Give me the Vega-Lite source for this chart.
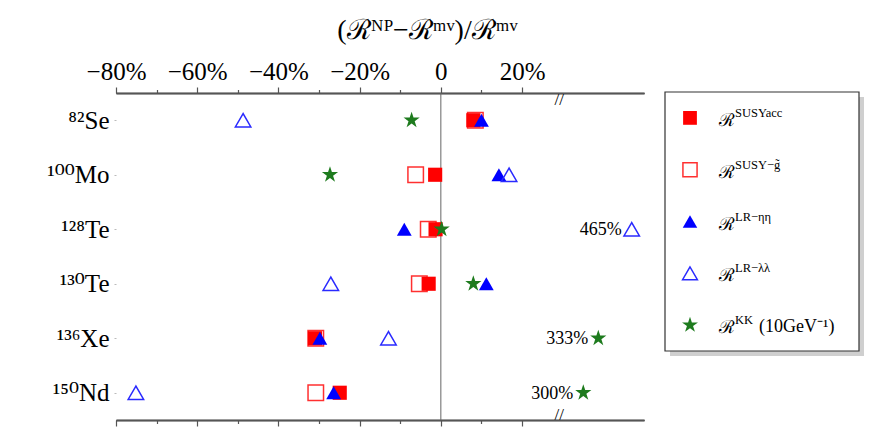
{
  "$schema": "https://vega.github.io/schema/vega-lite/v6.json",
  "autosize": "none",
  "width": 528,
  "height": 327,
  "padding": {"left": 116, "top": 93, "right": 233, "bottom": 12},
  "background": "white",
  "config": {
    "view": {"stroke": null},
    "font": "Liberation Serif",
    "axis": {"labelFont": "Liberation Serif", "titleFont": "Liberation Serif", "grid": false, "labelColor": "black", "titleColor": "black", "labelOverlap": false, "labelFlush": false}
  },
  "datasets": {
    "pts": [
      {"nucleus": "⁸²Se", "series": "LRlambda", "value": -48.7},
      {"nucleus": "⁸²Se", "series": "KK", "value": -7.2},
      {"nucleus": "⁸²Se", "series": "SUSYg", "value": 8.5},
      {"nucleus": "⁸²Se", "series": "SUSYacc", "value": 8.0},
      {"nucleus": "⁸²Se", "series": "LReta", "value": 10.0},
      {"nucleus": "¹⁰⁰Mo", "series": "KK", "value": -27.3},
      {"nucleus": "¹⁰⁰Mo", "series": "SUSYg", "value": -6.2},
      {"nucleus": "¹⁰⁰Mo", "series": "SUSYacc", "value": -1.4},
      {"nucleus": "¹⁰⁰Mo", "series": "LReta", "value": 14.3},
      {"nucleus": "¹⁰⁰Mo", "series": "LRlambda", "value": 16.8},
      {"nucleus": "¹²⁸Te", "series": "LReta", "value": -9.0},
      {"nucleus": "¹²⁸Te", "series": "SUSYg", "value": -3.1},
      {"nucleus": "¹²⁸Te", "series": "SUSYacc", "value": -1.3},
      {"nucleus": "¹²⁸Te", "series": "KK", "value": 0.2},
      {"nucleus": "¹²⁸Te", "series": "LRlambda", "value": 465, "label": "465%"},
      {"nucleus": "¹³⁰Te", "series": "LRlambda", "value": -27.1},
      {"nucleus": "¹³⁰Te", "series": "SUSYg", "value": -5.3},
      {"nucleus": "¹³⁰Te", "series": "SUSYacc", "value": -3.0},
      {"nucleus": "¹³⁰Te", "series": "KK", "value": 8.0},
      {"nucleus": "¹³⁰Te", "series": "LReta", "value": 11.2},
      {"nucleus": "¹³⁶Xe", "series": "SUSYg", "value": -30.8},
      {"nucleus": "¹³⁶Xe", "series": "SUSYacc", "value": -31.0},
      {"nucleus": "¹³⁶Xe", "series": "LReta", "value": -29.8},
      {"nucleus": "¹³⁶Xe", "series": "LRlambda", "value": -12.9},
      {"nucleus": "¹³⁶Xe", "series": "KK", "value": 333, "label": "333%"},
      {"nucleus": "¹⁵⁰Nd", "series": "LRlambda", "value": -75.1},
      {"nucleus": "¹⁵⁰Nd", "series": "SUSYg", "value": -30.8},
      {"nucleus": "¹⁵⁰Nd", "series": "LReta", "value": -26.4},
      {"nucleus": "¹⁵⁰Nd", "series": "SUSYacc", "value": -24.9},
      {"nucleus": "¹⁵⁰Nd", "series": "KK", "value": 300, "label": "300%"}
    ],
    "leg": [
      {"series": "SUSYacc", "sup": "SUSYacc"},
      {"series": "SUSYg", "sup": "SUSY−g̃"},
      {"series": "LReta", "sup": "LR−ηη"},
      {"series": "LRlambda", "sup": "LR−λλ"},
      {"series": "KK", "sup": "KK", "rest": "(10GeV⁻¹)"}
    ]
  },
  "resolve": {"scale": {"x": "independent", "y": "independent"}, "axis": {"x": "independent", "y": "independent"}},
  "layer": [
    {
      "resolve": {"axis": {"x": "independent"}},
      "layer": [
        {
          "data": {"values": [{"v": 0}]},
          "mark": {"type": "rule", "color": "#666666", "strokeWidth": 1},
          "encoding": {
            "x": {"field": "v", "type": "quantitative",
              "scale": {"domain": [-80, 29, 300, 333, 465, 505], "range": [0, 442.6, 467.3, 482.3, 515.7, 528], "zero": false, "nice": false},
              "axis": {"orient": "top", "values": [-80, -60, -40, -20, 0, 20],
                "labelExpr": "datum.value == 0 ? '0' : (datum.value < 0 ? '−' : '') + abs(datum.value) + '%'",
                "ticks": false,
                "domainColor": "#555555", "domainWidth": 1.5,
                "labelFont": "Liberation Serif", "labelFontSize": 25, "labelPadding": 9,
                "title": "(ℛᴺᴾ−ℛᵐᵛ)/ℛᵐᵛ", "titleFont": "Liberation Serif, DejaVu Serif", "titleFontSize": 28, "titleFontWeight": "normal",
                "titleX": 311, "titleY": -55, "titleBaseline": "alphabetic", "titleAlign": "center"}
            }
          }
        },
        {
          "data": {"name": "pts"},
          "transform": [{"filter": "datum.series == 'SUSYg'"}],
          "mark": {"type": "point", "shape": "square", "filled": false, "stroke": "#ff3030", "strokeWidth": 1.5, "size": 240, "opacity": 1},
          "encoding": {
            "x": {"field": "value", "type": "quantitative",
              "scale": {"domain": [-80, 29, 300, 333, 465, 505], "range": [0, 442.6, 467.3, 482.3, 515.7, 528], "zero": false, "nice": false},
              "axis": {"orient": "top", "values": [-80, -60, -40, -20, 0, 20], "labels": false, "domain": true, "domainColor": "#555555", "domainWidth": 1.5, "tickSize": 6, "tickColor": "#555555", "tickWidth": 1.2, "title": null}},
            "y": {"field": "nucleus", "type": "nominal",
              "scale": {"type": "point", "domain": ["⁸²Se", "¹⁰⁰Mo", "¹²⁸Te", "¹³⁰Te", "¹³⁶Xe", "¹⁵⁰Nd"], "padding": 0.5},
              "axis": {"orient": "left", "title": null, "domain": false, "tickSize": 2, "tickColor": "#bbbbbb", "labelFont": "Liberation Serif, DejaVu Serif", "labelFontSize": 25, "labelPadding": 5}}
          }
        },
        {
          "data": {"name": "pts"},
          "transform": [{"filter": "datum.series == 'SUSYacc'"}],
          "mark": {"type": "point", "shape": "square", "filled": true, "fill": "#ff0000", "size": 200, "opacity": 1},
          "encoding": {
            "x": {"field": "value", "type": "quantitative",
              "scale": {"domain": [-80, 29, 300, 333, 465, 505], "range": [0, 442.6, 467.3, 482.3, 515.7, 528], "zero": false, "nice": false},
              "axis": {"orient": "top", "values": [-70, -50, -30, -10, 10], "labels": false, "domain": true, "domainColor": "#555555", "domainWidth": 1.5, "tickSize": 3.5, "tickColor": "#555555", "tickWidth": 1.2, "title": null}},
            "y": {"field": "nucleus", "type": "nominal",
              "scale": {"type": "point", "domain": ["⁸²Se", "¹⁰⁰Mo", "¹²⁸Te", "¹³⁰Te", "¹³⁶Xe", "¹⁵⁰Nd"], "padding": 0.5},
              "axis": {"orient": "left", "title": null, "domain": false, "tickSize": 2, "tickColor": "#bbbbbb", "labelFont": "Liberation Serif, DejaVu Serif", "labelFontSize": 25, "labelPadding": 5}}
          }
        },
        {
          "data": {"name": "pts"},
          "transform": [{"filter": "datum.series == 'KK'"}],
          "mark": {"type": "point", "shape": "M0,-1L0.225,-0.309L0.951,-0.309L0.363,0.118L0.588,0.809L0,0.382L-0.588,0.809L-0.363,0.118L-0.951,-0.309L-0.225,-0.309Z", "filled": true, "fill": "#1e7b1e", "size": 290, "opacity": 1},
          "encoding": {
            "x": {"field": "value", "type": "quantitative",
              "scale": {"domain": [-80, 29, 300, 333, 465, 505], "range": [0, 442.6, 467.3, 482.3, 515.7, 528], "zero": false, "nice": false},
              "axis": {"orient": "bottom", "values": [-80, -60, -40, -20, 0, 20], "labels": false, "domain": true, "domainColor": "#555555", "domainWidth": 1.5, "tickSize": 6, "tickColor": "#555555", "tickWidth": 1.2, "title": null}},
            "y": {"field": "nucleus", "type": "nominal",
              "scale": {"type": "point", "domain": ["⁸²Se", "¹⁰⁰Mo", "¹²⁸Te", "¹³⁰Te", "¹³⁶Xe", "¹⁵⁰Nd"], "padding": 0.5},
              "axis": {"orient": "left", "title": null, "domain": false, "tickSize": 2, "tickColor": "#bbbbbb", "labelFont": "Liberation Serif, DejaVu Serif", "labelFontSize": 25, "labelPadding": 5}}
          }
        },
        {
          "data": {"name": "pts"},
          "transform": [{"filter": "datum.series == 'LReta'"}],
          "mark": {"type": "point", "shape": "triangle-up", "filled": true, "fill": "#0000ff", "size": 220, "opacity": 1},
          "encoding": {
            "x": {"field": "value", "type": "quantitative",
              "scale": {"domain": [-80, 29, 300, 333, 465, 505], "range": [0, 442.6, 467.3, 482.3, 515.7, 528], "zero": false, "nice": false},
              "axis": {"orient": "bottom", "values": [-70, -50, -30, -10, 10], "labels": false, "domain": true, "domainColor": "#555555", "domainWidth": 1.5, "tickSize": 3.5, "tickColor": "#555555", "tickWidth": 1.2, "title": null}},
            "y": {"field": "nucleus", "type": "nominal",
              "scale": {"type": "point", "domain": ["⁸²Se", "¹⁰⁰Mo", "¹²⁸Te", "¹³⁰Te", "¹³⁶Xe", "¹⁵⁰Nd"], "padding": 0.5},
              "axis": {"orient": "left", "title": null, "domain": false, "tickSize": 2, "tickColor": "#bbbbbb", "labelFont": "Liberation Serif, DejaVu Serif", "labelFontSize": 25, "labelPadding": 5}}
          }
        },
        {
          "data": {"name": "pts"},
          "transform": [{"filter": "datum.series == 'LRlambda'"}],
          "mark": {"type": "point", "shape": "triangle-up", "filled": false, "stroke": "#2a2aff", "strokeWidth": 1.5, "size": 240, "opacity": 1},
          "encoding": {
            "x": {"field": "value", "type": "quantitative",
              "scale": {"domain": [-80, 29, 300, 333, 465, 505], "range": [0, 442.6, 467.3, 482.3, 515.7, 528], "zero": false, "nice": false},
              "axis": {"orient": "top", "values": [29.5], "labelExpr": "'//'", "ticks": false, "domain": false, "labelFont": "Liberation Serif", "labelFontSize": 17, "labelBaseline": "middle", "labelPadding": -6, "title": null}},
            "y": {"field": "nucleus", "type": "nominal",
              "scale": {"type": "point", "domain": ["⁸²Se", "¹⁰⁰Mo", "¹²⁸Te", "¹³⁰Te", "¹³⁶Xe", "¹⁵⁰Nd"], "padding": 0.5},
              "axis": {"orient": "left", "title": null, "domain": false, "tickSize": 2, "tickColor": "#bbbbbb", "labelFont": "Liberation Serif, DejaVu Serif", "labelFontSize": 25, "labelPadding": 5}}
          }
        },
        {
          "data": {"name": "pts"},
          "transform": [{"filter": "isValid(datum.label)"}],
          "mark": {"type": "text", "align": "right", "baseline": "middle", "dx": -10, "dy": 1, "fontSize": 18, "font": "Liberation Serif", "color": "black"},
          "encoding": {
            "x": {"field": "value", "type": "quantitative",
              "scale": {"domain": [-80, 29, 300, 333, 465, 505], "range": [0, 442.6, 467.3, 482.3, 515.7, 528], "zero": false, "nice": false},
              "axis": {"orient": "bottom", "values": [29.5], "labelExpr": "'//'", "ticks": false, "domain": true, "domainColor": "#555555", "domainWidth": 1.5, "labelFont": "Liberation Serif", "labelFontSize": 17, "labelBaseline": "middle", "labelPadding": -6, "title": null}},
            "y": {"field": "nucleus", "type": "nominal",
              "scale": {"type": "point", "domain": ["⁸²Se", "¹⁰⁰Mo", "¹²⁸Te", "¹³⁰Te", "¹³⁶Xe", "¹⁵⁰Nd"], "padding": 0.5},
              "axis": {"orient": "left", "title": null, "domain": false, "tickSize": 2, "tickColor": "#bbbbbb", "labelFont": "Liberation Serif, DejaVu Serif", "labelFontSize": 25, "labelPadding": 5}},
            "text": {"field": "label"}
          }
        }
      ]
    },
    {
      "data": {"name": "leg"},
      "resolve": {"scale": {"y": "independent"}},
      "layer": [
        {
          "data": {"values": [{"k": 1}]},
          "mark": {"type": "rect", "fill": "#cfcfcf", "stroke": null},
          "encoding": {
            "x": {"datum": 5, "type": "quantitative", "scale": {"domain": [0, 194], "range": [549, 743], "zero": false, "nice": false}, "axis": null},
            "x2": {"datum": 199},
            "y": {"datum": 5, "type": "quantitative", "scale": {"domain": [0, 259], "range": [-1, 258], "zero": false, "nice": false}, "axis": null},
            "y2": {"datum": 264}
          }
        },
        {
          "data": {"values": [{"k": 1}]},
          "mark": {"type": "rect", "fill": "white", "stroke": "#333333", "strokeWidth": 1.2},
          "encoding": {
            "x": {"datum": 0, "type": "quantitative", "scale": {"domain": [0, 194], "range": [549, 743], "zero": false, "nice": false}, "axis": null},
            "x2": {"datum": 194},
            "y": {"datum": 0, "type": "quantitative", "scale": {"domain": [0, 259], "range": [-1, 258], "zero": false, "nice": false}, "axis": null},
            "y2": {"datum": 259}
          }
        },
        {
          "transform": [{"filter": "datum.series == 'SUSYacc'"}],
          "mark": {"type": "point", "shape": "square", "filled": true, "fill": "#ff0000", "size": 190, "opacity": 1},
          "encoding": {
            "x": {"datum": 25, "type": "quantitative", "scale": {"domain": [0, 194], "range": [549, 743], "zero": false, "nice": false}, "axis": null},
            "y": {"field": "series", "type": "nominal", "scale": {"type": "point", "domain": ["SUSYacc", "SUSYg", "LReta", "LRlambda", "KK"], "range": [-1, 258], "padding": 0.5}, "axis": null}
          }
        },
        {
          "transform": [{"filter": "datum.series == 'SUSYg'"}],
          "mark": {"type": "point", "shape": "square", "filled": false, "stroke": "#ff3030", "strokeWidth": 1.5, "size": 200, "opacity": 1},
          "encoding": {
            "x": {"datum": 25, "type": "quantitative", "scale": {"domain": [0, 194], "range": [549, 743], "zero": false, "nice": false}, "axis": null},
            "y": {"field": "series", "type": "nominal", "scale": {"type": "point", "domain": ["SUSYacc", "SUSYg", "LReta", "LRlambda", "KK"], "range": [-1, 258], "padding": 0.5}, "axis": null}
          }
        },
        {
          "transform": [{"filter": "datum.series == 'LReta'"}],
          "mark": {"type": "point", "shape": "triangle-up", "filled": true, "fill": "#0000ff", "size": 210, "opacity": 1},
          "encoding": {
            "x": {"datum": 25, "type": "quantitative", "scale": {"domain": [0, 194], "range": [549, 743], "zero": false, "nice": false}, "axis": null},
            "y": {"field": "series", "type": "nominal", "scale": {"type": "point", "domain": ["SUSYacc", "SUSYg", "LReta", "LRlambda", "KK"], "range": [-1, 258], "padding": 0.5}, "axis": null}
          }
        },
        {
          "transform": [{"filter": "datum.series == 'LRlambda'"}],
          "mark": {"type": "point", "shape": "triangle-up", "filled": false, "stroke": "#2a2aff", "strokeWidth": 1.5, "size": 220, "opacity": 1},
          "encoding": {
            "x": {"datum": 25, "type": "quantitative", "scale": {"domain": [0, 194], "range": [549, 743], "zero": false, "nice": false}, "axis": null},
            "y": {"field": "series", "type": "nominal", "scale": {"type": "point", "domain": ["SUSYacc", "SUSYg", "LReta", "LRlambda", "KK"], "range": [-1, 258], "padding": 0.5}, "axis": null}
          }
        },
        {
          "transform": [{"filter": "datum.series == 'KK'"}],
          "mark": {"type": "point", "shape": "M0,-1L0.225,-0.309L0.951,-0.309L0.363,0.118L0.588,0.809L0,0.382L-0.588,0.809L-0.363,0.118L-0.951,-0.309L-0.225,-0.309Z", "filled": true, "fill": "#1e7b1e", "size": 280, "opacity": 1},
          "encoding": {
            "x": {"datum": 25, "type": "quantitative", "scale": {"domain": [0, 194], "range": [549, 743], "zero": false, "nice": false}, "axis": null},
            "y": {"field": "series", "type": "nominal", "scale": {"type": "point", "domain": ["SUSYacc", "SUSYg", "LReta", "LRlambda", "KK"], "range": [-1, 258], "padding": 0.5}, "axis": null}
          }
        },
        {
          "mark": {"type": "text", "align": "left", "baseline": "middle", "dy": 3, "fontSize": 18, "font": "Liberation Serif, DejaVu Serif", "color": "black"},
          "encoding": {
            "x": {"datum": 54, "type": "quantitative", "scale": {"domain": [0, 194], "range": [549, 743], "zero": false, "nice": false}, "axis": null},
            "y": {"field": "series", "type": "nominal", "scale": {"type": "point", "domain": ["SUSYacc", "SUSYg", "LReta", "LRlambda", "KK"], "range": [-1, 258], "padding": 0.5}, "axis": null},
            "text": {"value": "ℛ"}
          }
        },
        {
          "mark": {"type": "text", "align": "left", "baseline": "middle", "dy": -5, "fontSize": 12.5, "font": "Liberation Serif", "color": "black"},
          "encoding": {
            "x": {"datum": 70, "type": "quantitative", "scale": {"domain": [0, 194], "range": [549, 743], "zero": false, "nice": false}, "axis": null},
            "y": {"field": "series", "type": "nominal", "scale": {"type": "point", "domain": ["SUSYacc", "SUSYg", "LReta", "LRlambda", "KK"], "range": [-1, 258], "padding": 0.5}, "axis": null},
            "text": {"field": "sup"}
          }
        },
        {
          "transform": [{"filter": "isValid(datum.rest)"}],
          "mark": {"type": "text", "align": "left", "baseline": "middle", "dy": 2, "fontSize": 18, "font": "Liberation Serif", "color": "black"},
          "encoding": {
            "x": {"datum": 94, "type": "quantitative", "scale": {"domain": [0, 194], "range": [549, 743], "zero": false, "nice": false}, "axis": null},
            "y": {"field": "series", "type": "nominal", "scale": {"type": "point", "domain": ["SUSYacc", "SUSYg", "LReta", "LRlambda", "KK"], "range": [-1, 258], "padding": 0.5}, "axis": null},
            "text": {"field": "rest"}
          }
        }
      ]
    }
  ]
}
